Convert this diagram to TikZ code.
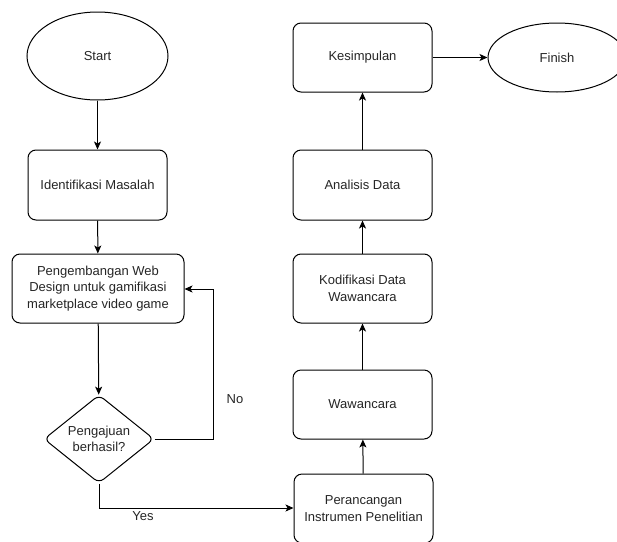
\documentclass[tikz,border=0pt]{standalone}
\usepackage{fontspec}
\setmainfont{Liberation Sans}
\usetikzlibrary{shapes.geometric,arrows.meta}
\begin{document}
\begin{tikzpicture}[x=1pt,y=-1pt,
  every node/.style={font=\fontsize{13pt}{16.5pt}\selectfont, text=black!85},
  proc/.style={draw, line width=1pt, rounded corners=8pt, minimum width=139pt, minimum height=69pt, inner sep=0pt, align=center},
  term/.style={draw, line width=1pt, ellipse, inner sep=0pt, align=center},
  decide/.style={draw, line width=1pt, diamond, rounded corners=6pt, minimum width=110pt, minimum height=86pt, inner sep=0pt, align=center},
  flow/.style={line width=1pt, -{Stealth[length=8pt,width=7pt,inset=2pt]}},
  lbl/.style={inner sep=0pt}]
\useasboundingbox (0,0) rectangle (617,541);
\fill[white] (0,0) rectangle (617,541);
\node[term, minimum width=141pt, minimum height=88pt] (start) at (97.5,56) {Start};
\node[proc, minimum height=70pt] (ident) at (97.5,185) {Identifikasi Masalah};
\node[proc, minimum width=172pt] (peng) at (98,288.5) {Pengembangan Web\\Design untuk gamifikasi\\marketplace video game};
\node[decide] (dec) at (99,439) {Pengajuan\\berhasil?};
\node[proc] (kes) at (362.5,57.5) {Kesimpulan};
\node[term, minimum width=138pt, minimum height=69pt] (fin) at (557,57.5) {Finish};
\node[proc, minimum height=70pt] (ana) at (362.5,185) {Analisis Data};
\node[proc] (kod) at (362.5,288.5) {Kodifikasi Data\\Wawancara};
\node[proc] (waw) at (362.5,404.5) {Wawancara};
\node[proc] (per) at (363.5,508.5) {Perancangan\\Instrumen Penelitian};
\coordinate (noA) at (213,439);
\coordinate (noB) at (213,289);
\coordinate (yesA) at (99,508);
\draw[flow] (start) -- (ident);
\draw[flow] (ident) -- (peng);
\draw[flow] (peng) -- (dec);
\draw[flow] (dec.east) -- (noA) -- (noB) -- (peng.east |- noB);
\draw[flow] (dec.south) -- (yesA) -- (per.west |- yesA);
\draw[flow] (per) -- (waw);
\draw[flow] (waw) -- (kod);
\draw[flow] (kod) -- (ana);
\draw[flow] (ana) -- (kes);
\draw[flow] (kes) -- (fin);
\node[lbl] (no) at (235,399) {No};
\node[lbl] (yes) at (143,516) {Yes};
\end{tikzpicture}
\end{document}
